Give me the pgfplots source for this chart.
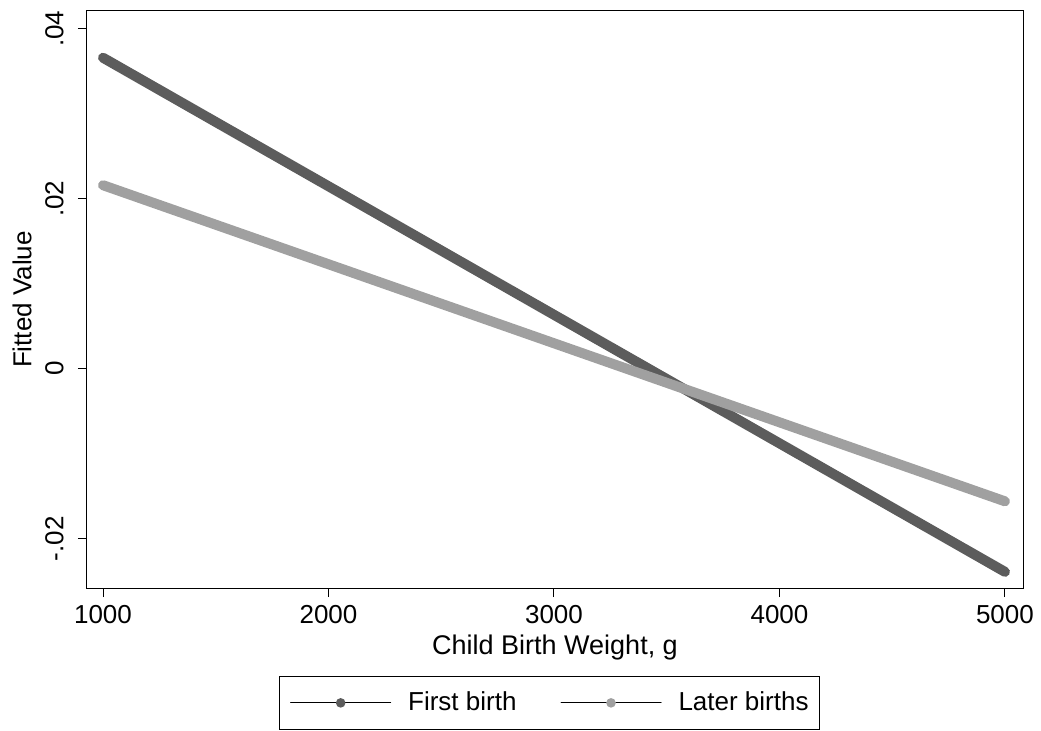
\documentclass[border=0pt]{standalone}
\usepackage{fontspec}
\setmainfont{Liberation Sans}
\usepackage{pgfplots}
\pgfplotsset{compat=1.18}
\definecolor{firstc}{RGB}{92,92,92}
\definecolor{laterc}{RGB}{160,160,160}

\begin{document}
\fontsize{13}{15}\selectfont
\begin{tikzpicture}
\useasboundingbox (-43.5pt,-71pt) rectangle (477pt,294pt);
\begin{axis}[
  at={(0,0)}, anchor=south west,
  scale only axis,
  width=468pt, height=288.5pt,
  xmin=929, xmax=5080,
  ymin=-0.0258, ymax=0.0421,
  scaled y ticks=false,
  xtick={1000,2000,3000,4000,5000},
  xticklabels={1000,2000,3000,4000,5000},
  ytick={-0.02,0,0.02,0.04},
  yticklabels={-.02,0,.02,.04},
  tick align=outside,
  xtick pos=bottom, ytick pos=left,
  major tick length=4.5pt,
  tick style={black, line width=0.5pt},
  axis line style={line width=0.5pt},
  yticklabel style={rotate=90, anchor=south, inner sep=0pt},
  xticklabel style={anchor=north, inner sep=0pt},
  yticklabel shift=7pt,
  xticklabel shift=4pt,
  xlabel={Child Birth Weight, g},
  ylabel={Fitted Value},
  xlabel style={at={(axis description cs:0.5,-0.1023)}, anchor=center,
    font=\fontsize{13.5}{15}\selectfont},
  ylabel style={at={(axis description cs:-0.0694,0.5)}, anchor=center},
  legend columns=2,
  legend cell align=left,
  legend style={at={(axis description cs:0.494,-0.1525)}, anchor=north,
    draw=black, line width=0.5pt, inner xsep=5.5pt, inner ysep=7.5pt,
    nodes={inner sep=0pt},
    /tikz/every odd column/.append style={column sep=8.5pt},
    /tikz/every even column/.append style={column sep=22pt}},
]
\addplot[firstc, line width=5pt, line cap=round,
  legend image code/.code={\draw[black, line width=0.5pt] (0pt,0pt) -- (50pt,0pt);
    \path[fill=firstc, draw=none] (25pt,0pt) circle (2.4pt);}]
  coordinates {(1000,0.0366) (5000,-0.0239)};
\addlegendentry{First birth}
\addplot[laterc, line width=5pt, line cap=round,
  legend image code/.code={\draw[black, line width=0.5pt] (0pt,0pt) -- (50pt,0pt);
    \path[fill=laterc, draw=none] (25pt,0pt) circle (2.4pt);}]
  coordinates {(1000,0.0216) (5000,-0.0156)};
\addlegendentry{Later births}
\end{axis}
\end{tikzpicture}
\end{document}
